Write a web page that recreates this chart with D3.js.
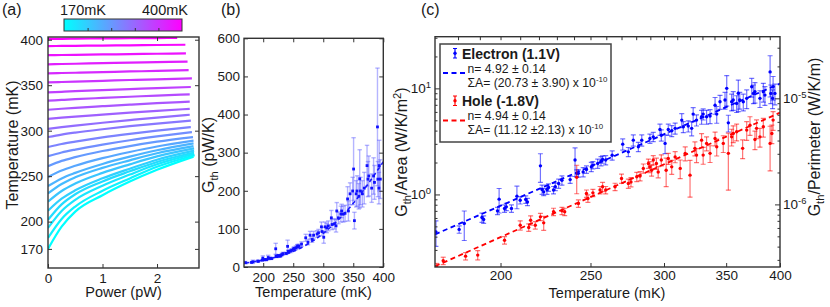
<!DOCTYPE html>
<html><head><meta charset="utf-8">
<script src="https://cdn.jsdelivr.net/npm/d3@7"></script>
<style>
body{margin:0;background:#fff}
text{font-family:"Liberation Sans",Arial,sans-serif;fill:#1a1a1a}
</style></head><body><div id="chart"></div>
<script>
// ---------- panel (a): heating curves ----------
const aPowerGrid = [0, 0.25, 0.5, 1, 1.5, 2];
const aEndPower = [2.37,2.52,2.53,2.56,2.58,2.64,2.62,2.6,2.6,2.6,2.6,2.62,2.62,2.64,2.66,2.67,2.67,2.67,2.68,2.68,2.68,2.68,2.69,2.67];
const aCurveTemps = [
  [401,401,401.2,401.4,401.6,401.8,402],
  [393,393.2,393.3,393.6,393.9,394.2,394.5],
  [383,383.2,383.4,383.8,384.2,384.6,385],
  [373,373.3,373.6,374.2,374.8,375.3,376],
  [363,363.4,363.7,364.4,365.1,365.7,366.5],
  [353,353.5,353.9,354.8,355.7,356.5,357.5],
  [342,342.7,343.4,344.6,345.7,346.8,348],
  [333,333.8,334.6,336,337.3,338.6,340],
  [323,324.1,325.1,326.9,328.6,330.2,332],
  [313,314.3,315.5,317.7,319.8,321.8,324],
  [302,303.9,305.6,308.7,311.6,314.4,317.5],
  [293,295.7,297.9,301.6,304.9,307.8,311],
  [282,285.3,287.9,292.6,296.5,300,304],
  [272,276,279.2,284.7,289.5,293.7,298.5],
  [261,266.8,270.9,277.6,283.1,287.9,293],
  [249,256.2,261.4,269.8,276.6,282.6,289],
  [239,247.5,253.6,263.4,271.4,278.5,286],
  [231,241.4,248.7,259.1,267.4,275.2,283],
  [222,233.7,241.9,253.6,263,271.7,280.5],
  [212,225.2,234.4,247.6,258.2,268.1,278],
  [202,219,230.1,244.2,255.3,265.6,276],
  [193,211.7,224,239.5,251.7,263.1,274.5],
  [182,202.9,216.6,233.9,247.5,260.3,273],
  [170,194.5,211,229,244,257,271.5]
];
const aTempTicks = [170, 200, 250, 300, 350, 400];
const aPowerTicks = [0, 1, 2];

// ---------- electron data (panels b and c) ----------
const elecTemp = [170.4,180.5,182.8,191,191.8,198.5,199.3,202,202.9,205.5,
  208.3,210,212.9,213.8,220.8,221.7,222.6,224.4,225.3,228.1,
  229.1,231,232.9,237.7,240.6,241.6,242.6,245.5,247.5,250.5,
  251.5,254.5,256.6,257.6,259.6,263.8,270.8,274.6,278,281.5,
  283.9,289.7,292.1,297,298,300.8,303.2,305.8,308.4,313.5,
  314.7,318.6,321.3,322.5,325.2,329.3,330.6,333.4,336.3,340.5,
  341.9,344.7,349,350.5,351.9,354.8,356.2,359.2,360.7,362,
  365.2,368.3,372.9,374.5,375.9,380.6,383.8,385.3,390.3,391,
  392.7,393.2,395];
// G_th in pW/K (panel b)
const elecG = [11.4,12.0,13.7,15.6,14.9,18.0,23.2,19.0,19.6,19.0,
  24.8,22.7,23.1,21.9,47.8,28.7,27.2,28.7,29.9,28.3,
  30.3,32.6,35.0,35.5,54.2,40.6,40.6,41.9,44.2,46.8,
  48.6,50.4,53.2,55.0,54.2,60.1,76.6,64.8,83.5,72.2,
  83.5,86.6,89.7,105.4,93.0,77.9,105.4,102.3,107.9,129.0,
  111.5,113.3,107.9,147.0,129.0,138.8,147.0,138.8,140.8,178.6,
  147.0,192.0,199.4,257.0,121.6,192.0,199.4,185.6,231.3,199.4,
  192.0,206.9,266.0,230.5,238.8,206.9,238.8,222.0,367.5,230.5,
  206.9,266.0,230.5];
// G_th/Area in W/K/m^2 (panel c)
const elecArea = [0.444,0.468,0.533,0.606,0.581,0.70,0.903,0.738,0.764,0.738,
  0.964,0.883,0.897,0.851,1.86,1.115,1.058,1.115,1.164,1.10,
  1.18,1.27,1.36,1.38,2.11,1.58,1.58,1.63,1.72,1.82,
  1.89,1.96,2.07,2.14,2.11,2.34,2.98,2.52,3.25,2.81,
  3.25,3.37,3.49,4.1,3.62,3.03,4.1,3.98,4.2,5.02,
  4.34,4.41,4.2,5.72,5.02,5.4,5.72,5.4,5.48,6.95,
  5.72,7.47,7.76,10,4.73,7.47,7.76,7.22,9.0,7.76,
  7.47,8.05,10.35,8.97,9.29,8.05,9.29,8.64,14.3,8.97,
  8.05,10.35,8.97];
// relative error of each point
const elecErr = [0.27,0.08,0.31,0.1,0.08,0.08,0.26,0.08,0.08,0.08,
  0.24,0.08,0.08,0.08,0.3,0.1,0.08,0.1,0.08,0.08,
  0.08,0.1,0.1,0.08,0.3,0.08,0.08,0.1,0.08,0.1,
  0.08,0.1,0.1,0.08,0.1,0.1,0.12,0.1,0.12,0.1,
  0.12,0.1,0.1,0.12,0.12,0.2,0.12,0.12,0.12,0.15,
  0.12,0.12,0.15,0.15,0.12,0.15,0.12,0.15,0.15,0.18,
  0.18,0.15,0.18,0.32,0.18,0.18,0.2,0.18,0.33,0.18,
  0.18,0.2,0.2,0.2,0.22,0.18,0.2,0.2,0.42,0.2,
  0.2,0.25,0.22];
const elecFitT = [170, 200, 250, 300, 350, 400];
const elecFitG = [10, 18.5, 41, 88, 167, 276];
const elecFitArea = [0.42, 11.1];

// ---------- hole data (panel c) ----------
const holeTemp = [170.7,173.5,183.4,189,202,210,214.5,215.5,218,220.8,
  222.6,228.1,232.9,234.5,241.6,242.6,247.5,248.4,251.5,256,
  257.6,259.6,265.7,270,274.6,276.4,280.4,282.7,285,288.6,
  289.7,290.9,292.1,294.4,295.7,298,301.6,303.2,305.8,308.4,
  312.3,316.2,320,323.9,325.2,329.3,330.6,333.4,336.3,340.5,
  341.9,347.5,351.9,354.8,356.2,359.2,364.6,368.3,371.3,375.9,
  377.4,380.6,383.8,390.3,392,393.2];
const holeArea = [0.207,0.237,0.262,0.268,0.37,0.513,0.488,0.572,0.513,0.615,
  0.54,0.686,0.70,0.686,1.45,0.822,1.02,0.917,1.035,1.1,
  1.18,1.1,1.18,1.415,1.27,1.31,1.47,1.49,1.76,1.96,
  1.82,1.69,2.11,1.96,1.63,2.11,1.69,2.18,1.82,2.26,
  1.76,2.44,1.52,2.72,2.35,3.25,2.35,3.03,2.44,3.37,
  2.81,3.03,2.44,3.49,3.76,3.9,2.72,4.04,4.5,3.3,
  4.2,3.49,4.34,3.03,3.76,5.02];
const holeErr = [0.08,0.08,0.08,0.1,0.08,0.1,0.08,0.1,0.08,0.08,
  0.15,0.08,0.08,0.08,0.3,0.08,0.08,0.08,0.08,0.08,
  0.1,0.08,0.08,0.1,0.1,0.1,0.1,0.1,0.1,0.1,
  0.12,0.12,0.1,0.12,0.12,0.12,0.3,0.12,0.15,0.12,
  0.2,0.15,0.38,0.15,0.15,0.15,0.18,0.15,0.18,0.15,
  0.18,0.18,0.55,0.18,0.18,0.18,0.2,0.2,0.2,0.2,
  0.2,0.2,0.2,0.45,0.2,0.2];
const holeFitArea = [0.21, 5.9];
const fitEnds = [170, 400];

const cTempTicks = [200, 250, 300, 350, 400];
const bTempTicks = [200, 250, 300, 350, 400];
const bGTicks = [0, 100, 200, 300, 400, 500, 600];

// ---------- drawing ----------
const svg = d3.select('#chart').append('svg').attr('width', 830).attr('height', 307);
const frameColor = '#333';

function styleAxis(g) {
  g.select('.domain').remove();
  g.selectAll('line').attr('stroke', frameColor).attr('stroke-width', 1);
  g.selectAll('text').attr('font-size', 13.5).attr('fill', '#1a1a1a')
    .attr('font-family', '"Liberation Sans",Arial,sans-serif');
}
function frame(x0, y0, x1, y1) {
  svg.append('rect').attr('x', x0).attr('y', y0).attr('width', x1 - x0).attr('height', y1 - y0)
    .attr('fill', 'none').attr('stroke', frameColor).attr('stroke-width', 1.4);
}
function sub(t, main, s, rest) {
  t.append('tspan').text(main);
  t.append('tspan').attr('font-size', '70%').attr('dy', 4).text(s);
  t.append('tspan').attr('dy', -4).text(rest);
}

// panel (a)
const xA = d3.scaleLinear().domain([0, 2.77]).range([48, 199]);
const yA = d3.scaleLinear().domain([149, 403]).range([268, 37]);
const cool = d3.interpolateRgb('#00ffff', '#ff00ff');
svg.append('clipPath').attr('id', 'clipA').append('rect').attr('x', 48).attr('y', 37).attr('width', 151).attr('height', 231);
const lineA = d3.line().x(d => xA(d[0])).y(d => yA(d[1])).curve(d3.curveMonotoneX);
svg.append('g').attr('clip-path', 'url(#clipA)').selectAll('path')
  .data(aCurveTemps).enter().append('path')
  .attr('d', (row, i) => lineA(row.map((t, j) => [j < aPowerGrid.length ? aPowerGrid[j] : aEndPower[i], t])))
  .attr('fill', 'none').attr('stroke-width', 2.2)
  .attr('stroke', row => cool((row[0] - 170) / 230));

svg.append('g').attr('transform', 'translate(0,268)')
  .call(d3.axisBottom(xA).tickValues(aPowerTicks).tickSize(-4).tickPadding(5).tickFormat(d3.format('d'))).call(styleAxis);
svg.append('g').attr('transform', 'translate(0,37)')
  .call(d3.axisTop(xA).tickValues(aPowerTicks).tickSize(-4).tickFormat('')).call(styleAxis);
svg.append('g').attr('transform', 'translate(48,0)')
  .call(d3.axisLeft(yA).tickValues(aTempTicks).tickSize(-4).tickPadding(5)).call(styleAxis);
svg.append('g').attr('transform', 'translate(199,0)')
  .call(d3.axisRight(yA).tickValues(aTempTicks).tickSize(-4).tickFormat('')).call(styleAxis);
frame(48, 37, 199, 268);

// colorbar
const grad = svg.append('defs').append('linearGradient').attr('id', 'cbar');
grad.append('stop').attr('offset', '0%').attr('stop-color', cool(0));
grad.append('stop').attr('offset', '50%').attr('stop-color', cool(0.5));
grad.append('stop').attr('offset', '100%').attr('stop-color', cool(1));
const xCb = d3.scaleLinear().domain([0, 5]).range([64, 182]);
svg.append('rect').attr('x', 64).attr('y', 19).attr('width', 118).attr('height', 12).attr('fill', 'url(#cbar)');
svg.append('g').attr('transform', 'translate(0,31)')
  .call(d3.axisBottom(xCb).tickValues([1, 2, 3, 4]).tickSize(-3).tickFormat('')).call(styleAxis);
svg.append('rect').attr('x', 64).attr('y', 19).attr('width', 118).attr('height', 12)
  .attr('fill', 'none').attr('stroke', frameColor).attr('stroke-width', 1);
svg.append('text').attr('x', 83).attr('y', 14.5).attr('text-anchor', 'middle').attr('font-size', 14.5).text('170mK');
svg.append('text').attr('x', 165).attr('y', 14.5).attr('text-anchor', 'middle').attr('font-size', 14.5).text('400mK');

svg.append('text').attr('x', 2).attr('y', 15).attr('font-size', 16).text('(a)');
svg.append('text').attr('x', 123.5).attr('y', 297).attr('text-anchor', 'middle').attr('font-size', 14.5).text('Power (pW)');
svg.append('text').attr('transform', 'translate(17.5,145) rotate(-90)').attr('text-anchor', 'middle')
  .attr('font-size', 16).text('Temperature (mK)');

// panel (b)
const xB = d3.scaleLinear().domain([168, 400]).range([244, 383.3]);
const yB = d3.scaleLinear().domain([0, 600]).range([267, 38.3]);
svg.append('clipPath').attr('id', 'clipB').append('rect').attr('x', 244).attr('y', 38).attr('width', 140).attr('height', 229);
const gB = svg.append('g').attr('clip-path', 'url(#clipB)');
const bIdx = d3.range(elecTemp.length);
const ebB = gB.append('g').attr('stroke', '#5a5aff').attr('stroke-opacity', 0.45).attr('stroke-width', 1.4);
ebB.selectAll('line.v').data(bIdx).enter().append('line')
  .attr('x1', i => xB(elecTemp[i])).attr('x2', i => xB(elecTemp[i]))
  .attr('y1', i => yB(elecG[i] * (1 - elecErr[i]))).attr('y2', i => yB(elecG[i] * (1 + elecErr[i])));
[-1, 1].forEach(s => {
  ebB.selectAll('line.c' + s).data(bIdx).enter().append('line')
    .attr('x1', i => xB(elecTemp[i]) - 2.2).attr('x2', i => xB(elecTemp[i]) + 2.2)
    .attr('y1', i => yB(elecG[i] * (1 + s * elecErr[i]))).attr('y2', i => yB(elecG[i] * (1 + s * elecErr[i])));
});
gB.append('path').datum(d3.zip(elecFitT, elecFitG))
  .attr('d', d3.line().x(d => xB(d[0])).y(d => yB(d[1])).curve(d3.curveMonotoneX))
  .attr('fill', 'none').attr('stroke', '#1a1aff').attr('stroke-width', 1.6).attr('stroke-dasharray', '4,3');
gB.selectAll('rect.pt').data(bIdx).enter().append('rect')
  .attr('x', i => xB(elecTemp[i]) - 1.4).attr('y', i => yB(elecG[i]) - 1.4)
  .attr('width', 2.8).attr('height', 2.8).attr('fill', '#1010ff');

svg.append('g').attr('transform', 'translate(0,267)')
  .call(d3.axisBottom(xB).tickValues(bTempTicks).tickSize(-4).tickPadding(5)).call(styleAxis);
svg.append('g').attr('transform', 'translate(0,38.3)')
  .call(d3.axisTop(xB).tickValues(bTempTicks).tickSize(-4).tickFormat('')).call(styleAxis);
svg.append('g').attr('transform', 'translate(244,0)')
  .call(d3.axisLeft(yB).tickValues(bGTicks).tickSize(-4).tickPadding(4)).call(styleAxis);
svg.append('g').attr('transform', 'translate(383.3,0)')
  .call(d3.axisRight(yB).tickValues(bGTicks).tickSize(-4).tickFormat('')).call(styleAxis);
frame(244, 38.3, 383.3, 267);

svg.append('text').attr('x', 221).attr('y', 15).attr('font-size', 16).text('(b)');
svg.append('text').attr('x', 313.5).attr('y', 297).attr('text-anchor', 'middle').attr('font-size', 14.5).text('Temperature (mK)');
sub(svg.append('text').attr('transform', 'translate(214,155) rotate(-90)').attr('text-anchor', 'middle').attr('font-size', 16),
  'G', 'th', ' (pW/K)');

// panel (c)
const xC = d3.scaleLog().domain([170, 400]).range([435, 780]);
const yC = d3.scaleLog().domain([0.207, 30.7]).range([267, 36.7]);
const yCr = d3.scaleLog().domain([2.57e-7, 3.81e-5]).range([267, 36.7]);
svg.append('clipPath').attr('id', 'clipC').append('rect').attr('x', 435).attr('y', 36.7).attr('width', 345).attr('height', 230.3);
const gC = svg.append('g').attr('clip-path', 'url(#clipC)');

function drawSeries(temps, vals, errs, color, fitVals) {
  const idx = d3.range(temps.length);
  const eb = gC.append('g').attr('stroke', color).attr('stroke-opacity', 0.55).attr('stroke-width', 1.2);
  eb.selectAll('line.v').data(idx).enter().append('line')
    .attr('x1', i => xC(temps[i])).attr('x2', i => xC(temps[i]))
    .attr('y1', i => yC(vals[i] * (1 - errs[i]))).attr('y2', i => yC(vals[i] * (1 + errs[i])));
  [-1, 1].forEach(s => {
    eb.selectAll('line.c' + s).data(idx).enter().append('line')
      .attr('x1', i => xC(temps[i]) - 2.5).attr('x2', i => xC(temps[i]) + 2.5)
      .attr('y1', i => yC(vals[i] * (1 + s * errs[i]))).attr('y2', i => yC(vals[i] * (1 + s * errs[i])));
  });
  gC.append('path').datum(d3.zip(fitEnds, fitVals))
    .attr('d', d3.line().x(d => xC(d[0])).y(d => yC(d[1])))
    .attr('fill', 'none').attr('stroke', color).attr('stroke-width', 1.8).attr('stroke-dasharray', '5,3.5');
  gC.append('g').selectAll('circle').data(idx).enter().append('circle')
    .attr('cx', i => xC(temps[i])).attr('cy', i => yC(vals[i])).attr('r', 1.7).attr('fill', color);
}
drawSeries(elecTemp, elecArea, elecErr, '#0000ff', elecFitArea);
drawSeries(holeTemp, holeArea, holeErr, '#ff0000', holeFitArea);

const cMinorX = d3.range(180, 400, 10);
const leftMinor = [0.3,0.4,0.5,0.6,0.7,0.8,0.9,2,3,4,5,6,7,8,9,20,30];
const rightMinor = [3e-7,4e-7,5e-7,6e-7,7e-7,8e-7,9e-7,2e-6,3e-6,4e-6,5e-6,6e-6,7e-6,8e-6,9e-6,2e-5,3e-5];
function powLabels(g, exps) {
  g.selectAll('.tick text').each(function (d, i) {
    const t = d3.select(this).text('');
    t.append('tspan').text('10');
    t.append('tspan').attr('font-size', '70%').attr('dy', '-0.55em').text(exps[i]);
  });
}
svg.append('g').attr('transform', 'translate(0,267)')
  .call(d3.axisBottom(xC).tickValues(cTempTicks).tickSize(-4).tickPadding(3).tickFormat(d3.format('d'))).call(styleAxis);
svg.append('g').attr('transform', 'translate(0,36.7)')
  .call(d3.axisTop(xC).tickValues(cMinorX).tickSize(-3.5).tickFormat('')).call(styleAxis);
svg.append('g').attr('transform', 'translate(435,0)')
  .call(d3.axisLeft(yC).tickValues([1, 10]).tickSize(-5).tickPadding(4)).call(styleAxis).call(g => powLabels(g, ['0', '1']));
svg.append('g').attr('transform', 'translate(435,0)')
  .call(d3.axisLeft(yC).tickValues(leftMinor).tickSize(-2.5).tickFormat('')).call(styleAxis);
svg.append('g').attr('transform', 'translate(780,0)')
  .call(d3.axisRight(yCr).tickValues([1e-6, 1e-5]).tickSize(-5).tickPadding(3)).call(styleAxis).call(g => powLabels(g, ['-6', '-5']));
svg.append('g').attr('transform', 'translate(780,0)')
  .call(d3.axisRight(yCr).tickValues(rightMinor).tickSize(-2.5).tickFormat('')).call(styleAxis);
frame(435, 36.7, 780, 267);

svg.append('text').attr('x', 421).attr('y', 15).attr('font-size', 16).text('(c)');
svg.append('text').attr('x', 607).attr('y', 298).attr('text-anchor', 'middle').attr('font-size', 14.5).text('Temperature (mK)');
const ylc = svg.append('text').attr('transform', 'translate(407,152) rotate(-90)').attr('text-anchor', 'middle').attr('font-size', 16);
ylc.append('tspan').text('G');
ylc.append('tspan').attr('font-size', '70%').attr('dy', 4).text('th');
ylc.append('tspan').attr('dy', -4).text('/Area (W/K/m');
ylc.append('tspan').attr('font-size', '70%').attr('dy', -6).text('2');
ylc.append('tspan').attr('dy', 6).text(')');
sub(svg.append('text').attr('transform', 'translate(820,137) rotate(-90)').attr('text-anchor', 'middle').attr('font-size', 16),
  'G', 'th', '/Perimeter (W/K/m)');

// legend
const leg = svg.append('g');
leg.append('rect').attr('x', 440).attr('y', 44).attr('width', 171).attr('height', 98)
  .attr('fill', '#fff').attr('stroke', '#444').attr('stroke-width', 1.5);
const legItems = [
  {name: 'Electron (1.1V)', color: '#0000ff', y: 0, n: 'n= 4.92 \u00b1 0.14', a: '\u03a3A= (20.73 \u00b1 3.90) x 10'},
  {name: 'Hole (-1.8V)', color: '#ff0000', y: 47.5, n: 'n= 4.94 \u00b1 0.14', a: '\u03a3A= (11.12 \u00b12.13) x 10'}
];
legItems.forEach(it => {
  const g = leg.append('g').attr('transform', `translate(0,${it.y})`);
  g.append('line').attr('x1', 455).attr('x2', 455).attr('y1', 48.5).attr('y2', 58).attr('stroke', it.color).attr('stroke-width', 1.2);
  g.append('line').attr('x1', 453).attr('x2', 457).attr('y1', 48.5).attr('y2', 48.5).attr('stroke', it.color);
  g.append('line').attr('x1', 453).attr('x2', 457).attr('y1', 58).attr('y2', 58).attr('stroke', it.color);
  g.append('circle').attr('cx', 455).attr('cy', 53.3).attr('r', 1.7).attr('fill', it.color);
  g.append('text').attr('x', 462).attr('y', 58.5).attr('font-size', 14).attr('font-weight', 'bold').text(it.name);
  g.append('line').attr('x1', 443).attr('x2', 467).attr('y1', 73).attr('y2', 73)
    .attr('stroke', it.color).attr('stroke-width', 1.8).attr('stroke-dasharray', '5,3.5');
  g.append('text').attr('x', 467.5).attr('y', 72.5).attr('font-size', 12.2).text(it.n);
  const t = g.append('text').attr('x', 467.5).attr('y', 86.5).attr('font-size', 12.2);
  t.append('tspan').text(it.a);
  t.append('tspan').attr('font-size', '65%').attr('dy', -5).text('-10');
});
</script></body></html>
